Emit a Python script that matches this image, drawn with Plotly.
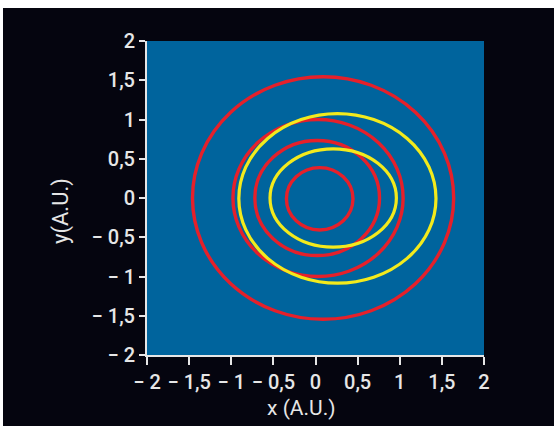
import plotly.graph_objects as go

# Axis ticks
tick_vals = [-2, -1.5, -1, -0.5, 0, 0.5, 1, 1.5, 2]
tick_text = ["\u2212 2", "\u2212 1,5", "\u2212 1", "\u2212 0,5", "0", "0,5", "1", "1,5", "2"]

# Red contours: centre and semi-axes (A.U.)
red_cx = [0.09, 0.03, 0.02, 0.05]
red_cy = [0.0, 0.0, 0.0, -0.01]
red_rx = [1.55, 1.01, 0.74, 0.395]
red_ry = [1.545, 1.0, 0.733, 0.397]

# Yellow contours: centre and semi-axes (A.U.)
yel_cx = [0.26, 0.21]
yel_cy = [-0.005, 0.0]
yel_rx = [1.17, 0.75]
yel_ry = [1.08, 0.627]

RED = "#e5202a"
YELLOW = "#f3ea1c"
BLUE = "#00649d"
DARK = "#05050f"
TEXT = "#e6e6e6"
FONT = "Roboto, sans-serif"

shapes = [
    # dark backdrop behind the whole figure
    dict(type="rect", xref="paper", yref="paper",
         x0=-0.4273, x1=1.21, y0=-0.23, y1=1.105,
         fillcolor=DARK, line=dict(width=0), layer="below"),
    # plotting field
    dict(type="rect", xref="x", yref="y", x0=-2, x1=2, y0=-2, y1=2,
         fillcolor=BLUE, line=dict(width=0), layer="below"),
]

for cx, cy, rx, ry in zip(red_cx, red_cy, red_rx, red_ry):
    shapes.append(dict(type="circle", xref="x", yref="y",
                       x0=cx - rx, x1=cx + rx, y0=cy - ry, y1=cy + ry,
                       line=dict(color=RED, width=3.4), layer="above"))

for cx, cy, rx, ry in zip(yel_cx, yel_cy, yel_rx, yel_ry):
    shapes.append(dict(type="circle", xref="x", yref="y",
                       x0=cx - rx, x1=cx + rx, y0=cy - ry, y1=cy + ry,
                       line=dict(color=YELLOW, width=3.2), layer="above"))

fig = go.Figure()
fig.add_trace(go.Scatter(x=[None], y=[None], showlegend=False, hoverinfo="skip"))

axis_common = dict(
    range=[-2, 2],
    tickvals=tick_vals,
    ticktext=tick_text,
    tickangle=0,
    automargin=False,
    showgrid=False,
    zeroline=False,
    showline=True,
    linecolor=TEXT,
    linewidth=2,
    ticks="outside",
    tickcolor=TEXT,
    tickwidth=2,
    tickfont=dict(family=FONT, size=20, color=TEXT, weight=500),
    fixedrange=True,
)

fig.update_layout(
    width=554,
    height=426,
    margin=dict(l=147, r=70, t=41, b=71),
    paper_bgcolor="white",
    plot_bgcolor="rgba(0,0,0,0)",
    showlegend=False,
    shapes=shapes,
    xaxis=dict(**axis_common, ticklen=8),
    yaxis=dict(**axis_common, ticklen=6),
    annotations=[
        dict(text="x (A.U.)", xref="paper", yref="paper", x=0.457, y=-0.169,
             xanchor="center", yanchor="middle", showarrow=False,
             font=dict(family=FONT, size=21, color=TEXT)),
        dict(text="y(A.U.)", xref="paper", yref="paper", x=-0.255, y=0.459,
             xanchor="center", yanchor="middle", showarrow=False, textangle=-90,
             font=dict(family=FONT, size=22, color=TEXT)),
    ],
)

fig.write_html("out.html")
